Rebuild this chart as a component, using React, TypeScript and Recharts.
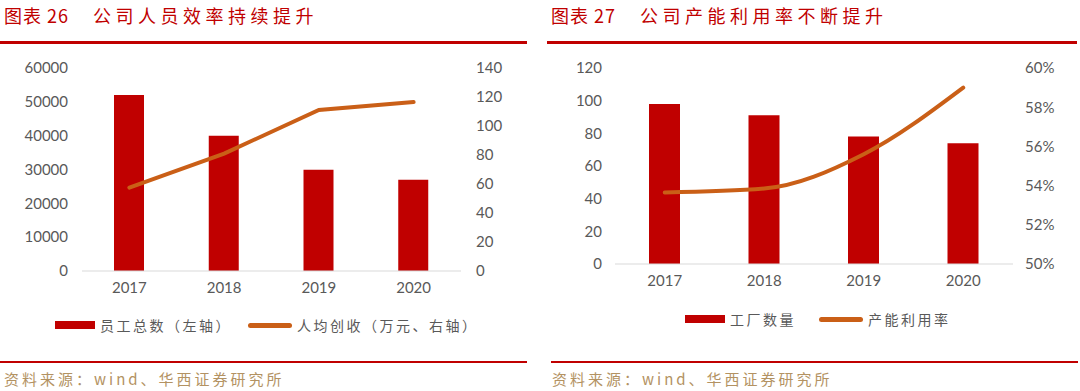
import { ComposedChart, Bar, Line, XAxis, YAxis } from 'recharts'

const years = ['2017', '2018', '2019', '2020']

// 图表 26
const staffTotal = [52000, 40000, 29900, 27000]
const revenuePerHead = [57.5, 81, 111, 116.5]
const staffTicks = [0, 10000, 20000, 30000, 40000, 50000, 60000]
const revenueTicks = [0, 20, 40, 60, 80, 100, 120, 140]

// 图表 27
const factoryCount = [98, 91, 78, 74]
const utilization = [53.65, 53.85, 55.6, 59.0]
const factoryTicks = [0, 20, 40, 60, 80, 100, 120]
const utilTicks = [50, 52, 54, 56, 58, 60]

const RED = '#C00000'
const ORANGE = '#CA5F17'
const GRAY = '#595959'
const TAN = '#B39262'
const CJK = '"Noto Sans CJK SC", sans-serif'
const NUM = 'Lato, "Open Sans", sans-serif'

const staffData = years.map((year, i) => ({ year, staff: staffTotal[i], revenue: revenuePerHead[i] }))
const factoryData = years.map((year, i) => ({ year, factories: factoryCount[i], util: utilization[i] }))

const tickStyle = { fill: GRAY, fontSize: 15, fontFamily: NUM }

function Title({ left, num, text, lineLeft, lineWidth }: { left: number; num: string; text: string; lineLeft: number; lineWidth: number }) {
  return (
    <>
      <div style={{ position: 'absolute', left, top: 4, color: RED, fontFamily: CJK, fontSize: 18, lineHeight: '22px', whiteSpace: 'nowrap' }}>
        <span style={{ letterSpacing: 1 }}>图表 {num}</span>
        <span style={{ marginLeft: 24, letterSpacing: 4.5 }}>{text}</span>
      </div>
      <div style={{ position: 'absolute', left: lineLeft, top: 41, width: lineWidth, height: 3, background: RED }} />
    </>
  )
}

function Footer({ left, lineLeft, lineWidth }: { left: number; lineLeft: number; lineWidth: number }) {
  return (
    <>
      <div style={{ position: 'absolute', left: lineLeft, top: 361, width: lineWidth, height: 2, background: RED }} />
      <div style={{ position: 'absolute', left, top: 369, color: TAN, fontFamily: CJK, fontSize: 15, lineHeight: '20px', letterSpacing: 3, whiteSpace: 'nowrap' }}>
        资料来源：wind、华西证券研究所
      </div>
    </>
  )
}

function LegendItem({ left, top, kind, label }: { left: number; top: number; kind: 'bar' | 'line'; label: string }) {
  return (
    <div style={{ position: 'absolute', left, top, display: 'flex', alignItems: 'center', whiteSpace: 'nowrap' }}>
      {kind === 'bar' ? (
        <div style={{ width: 40, height: 8, background: RED }} />
      ) : (
        <div style={{ width: 44, height: 5, borderRadius: 3, background: ORANGE }} />
      )}
      <span style={{ marginLeft: 5, color: GRAY, fontFamily: CJK, fontSize: 14, letterSpacing: 2.5 }}>{label}</span>
    </div>
  )
}

export default function App() {
  return (
    <div style={{ position: 'absolute', left: 0, top: 0, width: 1080, height: 391, background: '#fff', overflow: 'hidden' }}>
      <Title left={4} num="26" text="公司人员效率持续提升" lineLeft={0} lineWidth={527} />
      <Title left={551} num="27" text="公司产能利用率不断提升" lineLeft={547} lineWidth={530} />

      <div style={{ position: 'absolute', left: 0, top: 0 }}>
        <ComposedChart width={540} height={391} data={staffData} margin={{ top: 68, right: 19, bottom: 90, left: 22 }}>
          <XAxis dataKey="year" tick={tickStyle} tickLine={false} axisLine={{ stroke: '#D9D9D9' }} tickSize={0} tickMargin={11} height={30} />
          <YAxis yAxisId="left" domain={[0, 60000]} ticks={staffTicks} interval={0} tick={tickStyle} tickLine={false} axisLine={false} tickSize={0} tickMargin={14} width={60} />
          <YAxis yAxisId="right" orientation="right" domain={[0, 140]} ticks={revenueTicks} interval={0} tick={tickStyle} tickLine={false} axisLine={false} tickSize={0} tickMargin={15} width={60} />
          <Bar yAxisId="left" dataKey="staff" fill={RED} barSize={30} isAnimationActive={false} />
          <Line yAxisId="right" dataKey="revenue" type="linear" stroke={ORANGE} strokeWidth={4} strokeLinecap="round" dot={false} isAnimationActive={false} />
        </ComposedChart>
      </div>

      <div style={{ position: 'absolute', left: 540, top: 0 }}>
        <ComposedChart width={540} height={391} data={factoryData} margin={{ top: 68, right: 7, bottom: 97, left: 15 }}>
          <XAxis dataKey="year" tick={tickStyle} tickLine={false} axisLine={{ stroke: '#D9D9D9' }} tickSize={0} tickMargin={11} height={30} />
          <YAxis yAxisId="left" domain={[0, 120]} ticks={factoryTicks} interval={0} tick={tickStyle} tickLine={false} axisLine={false} tickSize={0} tickMargin={13} width={60} />
          <YAxis yAxisId="right" orientation="right" domain={[50, 60]} ticks={utilTicks} interval={0} tickFormatter={(v: number) => `${v}%`} tick={tickStyle} tickLine={false} axisLine={false} tickSize={0} tickMargin={12} width={60} />
          <Bar yAxisId="left" dataKey="factories" fill={RED} barSize={31} isAnimationActive={false} />
          <Line yAxisId="right" dataKey="util" type="monotone" stroke={ORANGE} strokeWidth={4} strokeLinecap="round" dot={false} isAnimationActive={false} />
        </ComposedChart>
      </div>

      <LegendItem left={55} top={315} kind="bar" label="员工总数（左轴）" />
      <LegendItem left={248} top={315} kind="line" label="人均创收（万元、右轴）" />
      <LegendItem left={685} top={309} kind="bar" label="工厂数量" />
      <LegendItem left={819} top={309} kind="line" label="产能利用率" />

      <Footer left={4} lineLeft={0} lineWidth={527} />
      <Footer left={552} lineLeft={551} lineWidth={527} />
    </div>
  )
}
